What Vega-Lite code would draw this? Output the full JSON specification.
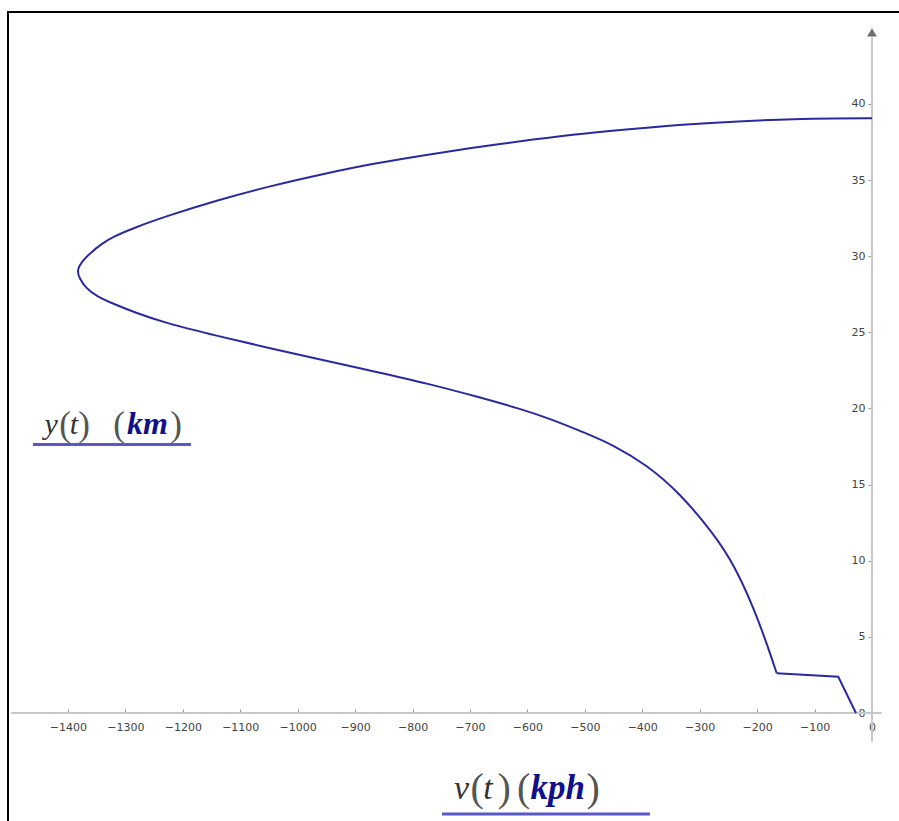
{
  "$schema": "https://vega.github.io/schema/vega-lite/v6.json",
  "width": 892,
  "height": 812,
  "autosize": {"type": "none"},
  "padding": {"left": 8, "top": 12, "right": 0, "bottom": 0},
  "background": "white",
  "config": {"view": {"stroke": "#000000", "strokeWidth": 2}},
  "resolve": {"axis": {"x": "independent", "y": "independent"}},
  "data": {"values": [
    {"i": 0, "v": 0, "y": 39.06},
    {"i": 1, "v": -66.2, "y": 39.05},
    {"i": 2, "v": -132.3, "y": 39.02},
    {"i": 3, "v": -224.6, "y": 38.88},
    {"i": 4, "v": -315.9, "y": 38.69},
    {"i": 5, "v": -407.5, "y": 38.4},
    {"i": 6, "v": -498.9, "y": 38.08},
    {"i": 7, "v": -590.3, "y": 37.67},
    {"i": 8, "v": -681.9, "y": 37.2},
    {"i": 9, "v": -773.1, "y": 36.68},
    {"i": 10, "v": -864.9, "y": 36.11},
    {"i": 11, "v": -956.5, "y": 35.4},
    {"i": 12, "v": -1047.9, "y": 34.61},
    {"i": 13, "v": -1139.5, "y": 33.69},
    {"i": 14, "v": -1230.9, "y": 32.6},
    {"i": 15, "v": -1283.3, "y": 31.89},
    {"i": 16, "v": -1321.6, "y": 31.28},
    {"i": 17, "v": -1342, "y": 30.8},
    {"i": 18, "v": -1361.7, "y": 30.19},
    {"i": 19, "v": -1376, "y": 29.65},
    {"i": 20, "v": -1384.5, "y": 29.07},
    {"i": 21, "v": -1380.3, "y": 28.57},
    {"i": 22, "v": -1368.6, "y": 27.9},
    {"i": 23, "v": -1350, "y": 27.38},
    {"i": 24, "v": -1322.5, "y": 26.9},
    {"i": 25, "v": -1283.3, "y": 26.3},
    {"i": 26, "v": -1231.1, "y": 25.62},
    {"i": 27, "v": -1139.5, "y": 24.76},
    {"i": 28, "v": -1047.9, "y": 23.95},
    {"i": 29, "v": -956.5, "y": 23.19},
    {"i": 30, "v": -864.9, "y": 22.42},
    {"i": 31, "v": -773.5, "y": 21.64},
    {"i": 32, "v": -681.9, "y": 20.72},
    {"i": 33, "v": -612.9, "y": 19.98},
    {"i": 34, "v": -566.4, "y": 19.41},
    {"i": 35, "v": -498.9, "y": 18.39},
    {"i": 36, "v": -450.5, "y": 17.6},
    {"i": 37, "v": -392.3, "y": 16.3},
    {"i": 38, "v": -334.3, "y": 14.43},
    {"i": 39, "v": -276.3, "y": 11.8},
    {"i": 40, "v": -241.5, "y": 9.83},
    {"i": 41, "v": -206.7, "y": 6.98},
    {"i": 42, "v": -183.4, "y": 4.58},
    {"i": 43, "v": -165.9, "y": 2.61},
    {"i": 44, "v": -58.7, "y": 2.38},
    {"i": 45, "v": -27.9, "y": 0.0}
  ]},
  "layer": [
    {
      "data": {"values": [{}]},
      "mark": {"type": "rule", "color": "#c8c8c8", "strokeWidth": 2},
      "encoding": {
        "x": {"datum": -1499, "type": "quantitative", "axis": null},
        "x2": {"datum": 17},
        "y": {"datum": 0, "type": "quantitative", "axis": null}
      }
    },
    {
      "data": {"values": [{}]},
      "mark": {"type": "rule", "color": "#c8c8c8", "strokeWidth": 2},
      "encoding": {
        "x": {"datum": 0, "type": "quantitative", "axis": null},
        "y": {"datum": -1.9, "type": "quantitative", "axis": null},
        "y2": {"datum": 44.4}
      }
    },
    {
      "data": {"values": [{}]},
      "mark": {"type": "point", "shape": "triangle-up", "filled": true, "color": "#6e6e6e", "size": 95, "opacity": 1},
      "encoding": {
        "x": {"datum": 0, "type": "quantitative", "axis": null},
        "y": {"datum": 44.7, "type": "quantitative", "axis": null}
      }
    },
    {
      "transform": [{"filter": "datum.i <= 43"}],
      "mark": {"type": "line", "color": "#2a2aa0", "strokeWidth": 2, "interpolate": "basis"},
      "encoding": {
        "x": {"field": "v", "type": "quantitative",
          "scale": {"domain": [-1504.4, 48.8], "nice": false, "zero": false},
          "axis": {"title": null, "values": [-1400,-1300,-1200,-1100,-1000,-900,-800,-700,-600,-500,-400,-300,-200,-100,0],
            "format": "d", "domain": false, "grid": false, "offset": -111, "tickSize": -4, "tickColor": "#999999",
            "labelPadding": 12, "labelFont": "DejaVu Sans", "labelFontSize": 11, "labelColor": "#444444",
            "labelFlush": false, "labelOverlap": false}},
        "y": {"field": "y", "type": "quantitative",
          "scale": {"domain": [-7.29, 46.04], "nice": false, "zero": false},
          "axis": {"title": null, "values": [0,5,10,15,20,25,30,35,40],
            "format": "d", "domain": false, "grid": false, "offset": -864, "tickSize": 4, "tickColor": "#999999",
            "labelPadding": 3, "labelFont": "DejaVu Sans", "labelFontSize": 11, "labelColor": "#444444",
            "labelFlush": false, "labelOverlap": false}},
        "order": {"field": "i", "type": "quantitative"}
      }
    },
    {
      "transform": [{"filter": "datum.i >= 43"}],
      "mark": {"type": "line", "color": "#2a2aa0", "strokeWidth": 2},
      "encoding": {
        "x": {"field": "v", "type": "quantitative", "axis": null},
        "y": {"field": "y", "type": "quantitative", "axis": null},
        "order": {"field": "i", "type": "quantitative"}
      }
    },
    {
      "data": {"values": [{}]},
      "mark": {"type": "rule", "color": "#5858c8", "strokeWidth": 3},
      "encoding": {
        "x": {"datum": -1460.9, "type": "quantitative", "axis": null},
        "x2": {"datum": -1185.8},
        "y": {"datum": 17.64, "type": "quantitative", "axis": null}
      }
    },
    {
      "data": {"values": [{}]},
      "mark": {"type": "rule", "color": "#5858c8", "strokeWidth": 3},
      "encoding": {
        "x": {"datum": -748.7, "type": "quantitative", "axis": null},
        "x2": {"datum": -386.6},
        "y": {"datum": -6.63, "type": "quantitative", "axis": null}
      }
    },
    {
      "data": {"values": [{}]},
      "mark": {"type": "text", "text": "y", "font": "Liberation Serif", "fontStyle": "italic", "fontSize": 30, "align": "left", "baseline": "alphabetic", "color": "#333333"},
      "encoding": {"x": {"datum": -1441, "type": "quantitative", "axis": null}, "y": {"datum": 18.33, "type": "quantitative", "axis": null}}
    },
    {
      "data": {"values": [{}]},
      "mark": {"type": "text", "text": "(", "font": "Liberation Serif", "fontSize": 35, "align": "left", "baseline": "alphabetic", "color": "#555555"},
      "encoding": {"x": {"datum": -1415, "type": "quantitative", "axis": null}, "y": {"datum": 18.2, "type": "quantitative", "axis": null}}
    },
    {
      "data": {"values": [{}]},
      "mark": {"type": "text", "text": "t", "font": "Liberation Serif", "fontStyle": "italic", "fontSize": 30, "align": "left", "baseline": "alphabetic", "color": "#333333"},
      "encoding": {"x": {"datum": -1397, "type": "quantitative", "axis": null}, "y": {"datum": 18.33, "type": "quantitative", "axis": null}}
    },
    {
      "data": {"values": [{}]},
      "mark": {"type": "text", "text": ")", "font": "Liberation Serif", "fontSize": 35, "align": "left", "baseline": "alphabetic", "color": "#555555"},
      "encoding": {"x": {"datum": -1382, "type": "quantitative", "axis": null}, "y": {"datum": 18.2, "type": "quantitative", "axis": null}}
    },
    {
      "data": {"values": [{}]},
      "mark": {"type": "text", "text": "(", "font": "Liberation Serif", "fontSize": 35, "align": "left", "baseline": "alphabetic", "color": "#555555"},
      "encoding": {"x": {"datum": -1321, "type": "quantitative", "axis": null}, "y": {"datum": 18.2, "type": "quantitative", "axis": null}}
    },
    {
      "data": {"values": [{}]},
      "mark": {"type": "text", "text": "km", "font": "Liberation Serif", "fontStyle": "italic", "fontWeight": "bold", "fontSize": 32, "align": "left", "baseline": "alphabetic", "color": "#10108c"},
      "encoding": {"x": {"datum": -1297, "type": "quantitative", "axis": null}, "y": {"datum": 18.33, "type": "quantitative", "axis": null}}
    },
    {
      "data": {"values": [{}]},
      "mark": {"type": "text", "text": ")", "font": "Liberation Serif", "fontSize": 35, "align": "left", "baseline": "alphabetic", "color": "#555555"},
      "encoding": {"x": {"datum": -1222, "type": "quantitative", "axis": null}, "y": {"datum": 18.2, "type": "quantitative", "axis": null}}
    },
    {
      "data": {"values": [{}]},
      "mark": {"type": "text", "text": "v", "font": "Liberation Serif", "fontStyle": "italic", "fontSize": 34, "align": "left", "baseline": "alphabetic", "color": "#333333"},
      "encoding": {"x": {"datum": -728, "type": "quantitative", "axis": null}, "y": {"datum": -5.65, "type": "quantitative", "axis": null}}
    },
    {
      "data": {"values": [{}]},
      "mark": {"type": "text", "text": "(", "font": "Liberation Serif", "fontSize": 40, "align": "left", "baseline": "alphabetic", "color": "#555555"},
      "encoding": {"x": {"datum": -699, "type": "quantitative", "axis": null}, "y": {"datum": -5.8, "type": "quantitative", "axis": null}}
    },
    {
      "data": {"values": [{}]},
      "mark": {"type": "text", "text": "t", "font": "Liberation Serif", "fontStyle": "italic", "fontSize": 34, "align": "left", "baseline": "alphabetic", "color": "#333333"},
      "encoding": {"x": {"datum": -677, "type": "quantitative", "axis": null}, "y": {"datum": -5.65, "type": "quantitative", "axis": null}}
    },
    {
      "data": {"values": [{}]},
      "mark": {"type": "text", "text": ")", "font": "Liberation Serif", "fontSize": 40, "align": "left", "baseline": "alphabetic", "color": "#555555"},
      "encoding": {"x": {"datum": -652, "type": "quantitative", "axis": null}, "y": {"datum": -5.8, "type": "quantitative", "axis": null}}
    },
    {
      "data": {"values": [{}]},
      "mark": {"type": "text", "text": "(", "font": "Liberation Serif", "fontSize": 40, "align": "left", "baseline": "alphabetic", "color": "#555555"},
      "encoding": {"x": {"datum": -618, "type": "quantitative", "axis": null}, "y": {"datum": -5.8, "type": "quantitative", "axis": null}}
    },
    {
      "data": {"values": [{}]},
      "mark": {"type": "text", "text": "kph", "font": "Liberation Serif", "fontStyle": "italic", "fontWeight": "bold", "fontSize": 35, "align": "left", "baseline": "alphabetic", "color": "#10108c"},
      "encoding": {"x": {"datum": -594.5, "type": "quantitative", "axis": null}, "y": {"datum": -5.65, "type": "quantitative", "axis": null}}
    },
    {
      "data": {"values": [{}]},
      "mark": {"type": "text", "text": ")", "font": "Liberation Serif", "fontSize": 40, "align": "left", "baseline": "alphabetic", "color": "#555555"},
      "encoding": {"x": {"datum": -497, "type": "quantitative", "axis": null}, "y": {"datum": -5.8, "type": "quantitative", "axis": null}}
    }
  ]
}
